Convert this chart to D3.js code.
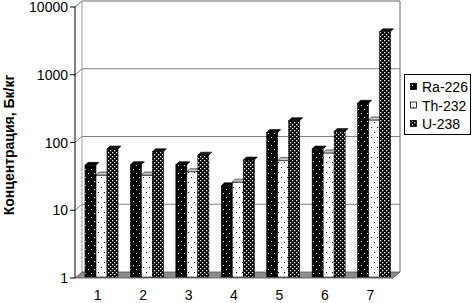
<!DOCTYPE html>
<html lang="ru">
<head>
    <meta charset="UTF-8">
    <title>Концентрация радионуклидов</title>
    <script src="https://d3js.org/d3.v7.min.js"></script>
    <style>
        body { margin: 0; background: #fff; }
        svg { display: block; font-family: "Liberation Sans", Arial, sans-serif; }
    </style>
</head>
<body>
<div id="chart"></div>
<script>
    // Data
    const groups = ["1", "2", "3", "4", "5", "6", "7"];
    const series = ["Ra-226", "Th-232", "U-238"];
    const ra226 = [46, 47, 47, 23, 140, 80, 380];
    const th232 = [33, 33, 37, 26, 54, 70, 215];
    const u238 = [80, 73, 65, 55, 210, 145, 4300];
    const yTicks = [1, 10, 100, 1000, 10000];

    const values = [ra226, th232, u238];
    const width = 472, height = 303;
    const depthX = 7, depthY = -6; // 3D offset of the back wall

    const svg = d3.select("#chart").append("svg")
        .attr("width", width)
        .attr("height", height);

    // fill patterns
    const defs = svg.append("defs");
    const pRa = defs.append("pattern").attr("id", "pRa").attr("patternUnits", "userSpaceOnUse")
        .attr("width", 6).attr("height", 8);
    pRa.append("rect").attr("width", 6).attr("height", 8).attr("fill", "#000");
    pRa.append("rect").attr("x", 1).attr("y", 1).attr("width", 1).attr("height", 1).attr("fill", "#fff");
    pRa.append("rect").attr("x", 4).attr("y", 5).attr("width", 1).attr("height", 1).attr("fill", "#fff");

    const pTh = defs.append("pattern").attr("id", "pTh").attr("patternUnits", "userSpaceOnUse")
        .attr("width", 6).attr("height", 10);
    pTh.append("rect").attr("width", 6).attr("height", 10).attr("fill", "#fff");
    pTh.append("rect").attr("x", 2).attr("y", 2).attr("width", 1).attr("height", 1).attr("fill", "#000");
    pTh.append("rect").attr("x", 5).attr("y", 7).attr("width", 1).attr("height", 1).attr("fill", "#000");

    const pU = defs.append("pattern").attr("id", "pU").attr("patternUnits", "userSpaceOnUse")
        .attr("width", 4).attr("height", 4);
    pU.append("rect").attr("width", 4).attr("height", 4).attr("fill", "#000");
    pU.append("rect").attr("x", 0).attr("y", 0).attr("width", 1.3).attr("height", 1.3).attr("fill", "#fff");
    pU.append("rect").attr("x", 2).attr("y", 2).attr("width", 1.3).attr("height", 1.3).attr("fill", "#fff");

    const fills = ["url(#pRa)", "url(#pTh)", "url(#pU)"];
    const capFills = ["#000", "#c8c8c8", "#111"];

    // scales
    const y = d3.scaleLog().domain([1, 10000]).range([278, 7]);
    const x0 = d3.scaleBand().domain(groups).range([75, 393]).padding(0);
    const x1 = d3.scaleBand().domain(series).range([10, 43]).padding(0);

    const wallLeft = x0.range()[0] + depthX;
    const wallRight = x0.range()[1] + depthX;

    // back wall gridlines
    yTicks.slice(1, -1).forEach(t => {
        svg.append("line")
            .attr("x1", wallLeft).attr("x2", wallRight)
            .attr("y1", y(t) + depthY).attr("y2", y(t) + depthY)
            .attr("stroke", "#808080");
        svg.append("line")
            .attr("x1", x0.range()[0]).attr("x2", wallLeft)
            .attr("y1", y(t)).attr("y2", y(t) + depthY)
            .attr("stroke", "#808080");
    });
    // wall border
    svg.append("path")
        .attr("d", `M${x0.range()[0]},${y(10000)} L${wallLeft},${y(10000) + depthY} L${wallRight},${y(10000) + depthY} L${wallRight},${y(1) + depthY}`)
        .attr("fill", "none").attr("stroke", "#666");
    svg.append("line")
        .attr("x1", wallLeft).attr("x2", wallLeft)
        .attr("y1", y(10000) + depthY).attr("y2", y(1) + depthY)
        .attr("stroke", "#999");

    // floor
    svg.append("path")
        .attr("d", `M${x0.range()[0]},${y(1)} L${x0.range()[1]},${y(1)} L${wallRight},${y(1) + depthY} L${wallLeft},${y(1) + depthY} Z`)
        .attr("fill", "#8c8c8c").attr("stroke", "#555").attr("stroke-width", 0.8);

    // bars
    const g = svg.append("g");
    groups.forEach((grp, i) => {
        series.forEach((s, k) => {
            const v = values[k][i];
            const bx = x0(grp) + x1(s);
            const bw = x1.bandwidth();
            const top = y(v);
            g.append("rect")
                .attr("x", bx).attr("y", top)
                .attr("width", bw).attr("height", y(1) - 1 - top)
                .attr("fill", fills[k])
                .attr("stroke", "#000").attr("stroke-width", 0.6);
            g.append("path")
                .attr("d", `M${bx},${top} L${bx + 3},${top - 3} L${bx + bw + 3},${top - 3} L${bx + bw},${top} Z`)
                .attr("fill", capFills[k]).attr("stroke", "#000").attr("stroke-width", 0.6);
        });
    });

    // y axis
    svg.append("line")
        .attr("x1", 75).attr("x2", 75)
        .attr("y1", y(10000)).attr("y2", y(1))
        .attr("stroke", "#000");
    const yAxis = svg.append("g");
    yTicks.forEach(t => {
        yAxis.append("line")
            .attr("x1", 70).attr("x2", 75)
            .attr("y1", y(t)).attr("y2", y(t))
            .attr("stroke", "#000");
        yAxis.append("text")
            .attr("x", 68).attr("y", y(t))
            .attr("dy", "0.36em")
            .attr("text-anchor", "end")
            .attr("font-size", 14)
            .text(t);
    });

    // x labels
    groups.forEach(grp => {
        svg.append("text")
            .attr("x", x0(grp) + x0.bandwidth() / 2)
            .attr("y", 300)
            .attr("text-anchor", "middle")
            .attr("font-size", 14)
            .text(grp);
    });

    // axis title
    svg.append("text")
        .attr("transform", "translate(14,145) rotate(-90)")
        .attr("text-anchor", "middle")
        .attr("font-size", 14)
        .attr("font-weight", "bold")
        .text("Концентрация, Бк/кг");

    // legend
    const legend = svg.append("g");
    legend.append("rect")
        .attr("x", 404.5).attr("y", 74.5)
        .attr("width", 66).attr("height", 60)
        .attr("fill", "#fff").attr("stroke", "#000");
    series.forEach((s, k) => {
        const ly = 87 + k * 18.5;
        legend.append("rect")
            .attr("x", 410.5).attr("y", ly - 3.5)
            .attr("width", 6).attr("height", 6)
            .attr("fill", fills[k]).attr("stroke", "#000").attr("stroke-width", 0.8);
        legend.append("text")
            .attr("x", 422).attr("y", ly)
            .attr("dy", "0.36em")
            .attr("font-size", 14)
            .text(s);
    });
</script>
</body>
</html>
